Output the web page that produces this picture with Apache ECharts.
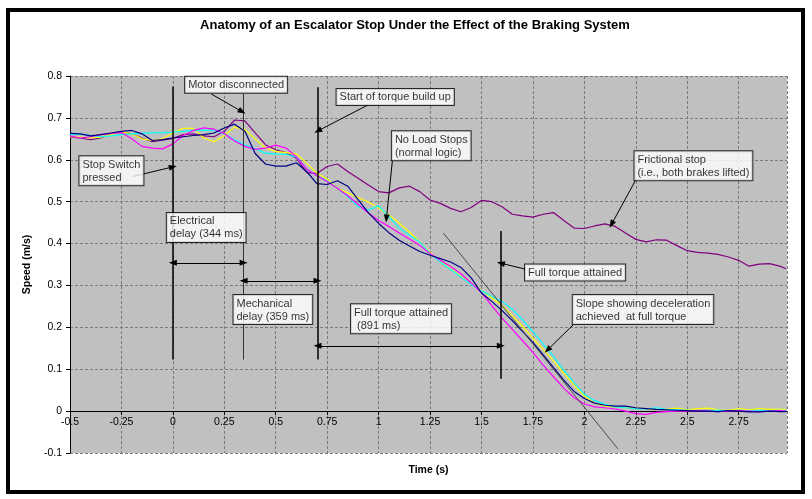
<!DOCTYPE html>
<html><head><meta charset="utf-8">
<script src="https://cdn.jsdelivr.net/npm/echarts@6/dist/echarts.min.js"></script>
<style>html,body{margin:0;padding:0;background:#fff}#c{width:812px;height:499px}</style>
</head><body><div id="c"></div>
<script>
// time axis (s)
const time = [-0.5,-0.45,-0.4,-0.35,-0.3,-0.25,-0.2,-0.15,-0.1,-0.05,0,0.05,0.1,0.15,0.2,0.25,0.3,0.35,0.4,0.45,0.5,0.55,0.6,0.65,0.7,0.75,0.8,0.85,0.9,0.95,1,1.05,1.1,1.15,1.2,1.25,1.3,1.35,1.4,1.45,1.5,1.55,1.6,1.65,1.7,1.75,1.8,1.85,1.9,1.95,2,2.05,2.1,2.15,2.2,2.25,2.3,2.35,2.4,2.45,2.5,2.55,2.6,2.65,2.7,2.75,2.8,2.85,2.9,2.95,2.98];
// speed (m/s) for each run
const stopNavy = [0.663,0.662,0.657,0.66,0.664,0.668,0.67,0.662,0.646,0.648,0.652,0.655,0.658,0.66,0.664,0.676,0.685,0.668,0.615,0.59,0.585,0.585,0.593,0.572,0.543,0.541,0.55,0.537,0.505,0.474,0.448,0.426,0.408,0.394,0.381,0.372,0.364,0.356,0.343,0.318,0.282,0.262,0.24,0.216,0.19,0.164,0.134,0.104,0.074,0.047,0.03,0.019,0.014,0.012,0.012,0.008,0.006,0.004,0.003,0.002,0.001,0,0,-0.001,0.001,0,-0.002,-0.002,0,-0.001,-0.001];
const stopMagenta = [0.657,0.652,0.655,0.66,0.663,0.665,0.65,0.632,0.628,0.626,0.638,0.658,0.67,0.676,0.673,0.662,0.645,0.632,0.625,0.628,0.635,0.628,0.607,0.578,0.562,0.548,0.532,0.514,0.494,0.473,0.455,0.441,0.425,0.411,0.396,0.376,0.36,0.345,0.328,0.306,0.283,0.252,0.222,0.195,0.168,0.14,0.11,0.082,0.055,0.032,0.017,0.01,0.008,0.005,0,-0.006,-0.008,-0.003,-0.001,0,0,0.001,0,-0.001,0,0.001,0,-0.001,0,0.001,0];
const stopYellow = [0.655,0.654,0.652,0.654,0.66,0.667,0.662,0.65,0.646,0.65,0.664,0.675,0.675,0.652,0.643,0.658,0.678,0.672,0.65,0.628,0.62,0.617,0.614,0.592,0.568,0.554,0.532,0.521,0.51,0.499,0.485,0.468,0.449,0.427,0.404,0.378,0.358,0.34,0.322,0.305,0.288,0.27,0.252,0.228,0.202,0.174,0.147,0.12,0.09,0.062,0.036,0.019,0.012,0.01,0.008,0.008,0.005,0.004,0.004,0.007,0.003,0.006,0.007,0.003,0.002,0.006,0.003,0.006,0.004,0.005,0.003];
const stopCyan = [0.66,0.662,0.658,0.655,0.657,0.66,0.662,0.663,0.664,0.665,0.666,0.668,0.67,0.671,0.67,0.662,0.648,0.636,0.626,0.616,0.614,0.613,0.606,0.578,0.562,0.55,0.532,0.512,0.488,0.48,0.49,0.465,0.437,0.42,0.404,0.376,0.356,0.338,0.32,0.302,0.287,0.274,0.262,0.243,0.218,0.19,0.16,0.13,0.098,0.068,0.04,0.025,0.016,0.01,0.008,0.006,0.005,0.008,0.004,0.003,0.002,0.001,0.001,0.002,0.001,0.002,0.001,0.002,0.001,0.002,0.001];
const stopFrictional = [0.654,0.652,0.648,0.652,0.662,0.667,0.662,0.652,0.643,0.647,0.651,0.66,0.662,0.657,0.655,0.668,0.695,0.693,0.664,0.636,0.624,0.617,0.604,0.57,0.567,0.584,0.59,0.572,0.556,0.54,0.524,0.521,0.533,0.537,0.524,0.504,0.496,0.484,0.476,0.486,0.503,0.5,0.488,0.47,0.466,0.463,0.47,0.474,0.455,0.437,0.436,0.442,0.447,0.441,0.425,0.41,0.404,0.409,0.408,0.395,0.383,0.379,0.377,0.374,0.368,0.36,0.346,0.351,0.352,0.346,0.34];
// slope line at full torque (time, speed)
const slopeLine = [[1.315,0.425],[2.163,-0.09]];
// event markers (time, speed from, speed to)
const eventLines = [[0,0.123,0.775],[0.344,0.123,0.757],[0.703,0.123,0.773],[1.594,0.077,0.43]];
// interval arrows (time from, time to, speed)
const spans = [[0,0.344,0.354],[0.344,0.703,0.311],[0.703,1.594,0.156]];
// callout pointers (time, speed) -> (time, speed)
const pointers = [[-0.196,0.56,0,0.583],[0.187,0.757,0.336,0.715],[0.957,0.733,0.705,0.669],[1.067,0.598,1.038,0.46],[2.25,0.552,2.132,0.446],[1.713,0.339,1.594,0.353],[1.946,0.206,1.821,0.146]];
// callout texts anchored at (time, speed)
const notes = [
  [-0.452,0.607,'Stop Switch\npressed'],
  [0.062,0.797,'Motor disconnected'],
  [-0.027,0.472,'Electrical\ndelay (344 ms)'],
  [0.297,0.276,'Mechanical\ndelay (359 ms)'],
  [0.798,0.768,'Start of torque build up'],
  [1.067,0.667,'No Load Stops\n(normal logic)'],
  [2.246,0.619,'Frictional stop\n(i.e., both brakes lifted)'],
  [1.714,0.349,'Full torque attained'],
  [0.868,0.254,'Full torque attained\n (891 ms)'],
  [1.946,0.276,'Slope showing deceleration\nachieved  at full torque']
];

const FONT = '"Liberation Sans", Arial, sans-serif';
const chart = echarts.init(document.getElementById('c'), null, {renderer:'canvas'});
const run = (name, arr, color) => ({
  name, type:'line', data: time.map((t,i)=>[t, arr[i]]), symbol:'none', showSymbol:false,
  lineStyle:{color, width:1.2}, itemStyle:{color}, silent:true, z:3
});
const tri = {symbol:'triangle', symbolSize:[6,8]};
const mlData = [];
eventLines.forEach((e,i)=>mlData.push([{coord:[e[0],e[1]], symbol:'none', lineStyle:{color: i===1?'#333':'#000', width: i===1?1:1.5, type:'solid'}},{coord:[e[0],e[2]], symbol:'none'}]));
spans.forEach(s=>mlData.push([Object.assign({coord:[s[0],s[2]], lineStyle:{color:'#000',width:1.2,type:'solid'}},tri),Object.assign({coord:[s[1],s[2]]},tri)]));
pointers.forEach(p=>mlData.push([{coord:[p[0],p[1]], symbol:'none', lineStyle:{color:'#000',width:1,type:'solid'}},Object.assign({coord:[p[2],p[3]]},tri)]));

chart.setOption({
  animation:false,
  backgroundColor:'#fff',
  title:{text:'Anatomy of an Escalator Stop Under the Effect of the Braking System', left:415, textAlign:'center', top:19, padding:0,
    textStyle:{fontFamily:FONT, fontSize:13, fontWeight:'bold', color:'#000'}},
  grid:{left:70, right:25, top:76, bottom:46, show:true, backgroundColor:'#c0c0c0', borderWidth:0, containLabel:false, outerBoundsMode:'none'},
  xAxis:{type:'value', min:-0.5, max:2.985, interval:0.25, position:'bottom', offset:-41.9,
    name:'Time (s)', nameLocation:'middle', nameGap:54,
    nameTextStyle:{fontFamily:FONT, fontSize:10.5, fontWeight:'bold', color:'#000'},
    axisLine:{show:true, onZero:false, lineStyle:{color:'#000', width:1}},
    axisTick:{show:true, length:4, lineStyle:{color:'#000'}},
    axisLabel:{fontFamily:FONT, fontSize:10.5, color:'#000', margin:6, showMaxLabel:false},
    splitLine:{show:true, lineStyle:{color:'#7a7a7a', width:1, type:[3,2]}}},
  yAxis:{type:'value', min:-0.1, max:0.8, interval:0.1,
    name:'Speed (m/s)', nameLocation:'middle', nameGap:29,
    nameTextStyle:{fontFamily:FONT, fontSize:10.5, fontWeight:'bold', color:'#000'},
    axisLine:{show:true, onZero:false, lineStyle:{color:'#000', width:1}},
    axisTick:{show:true, length:4, lineStyle:{color:'#000'}},
    axisLabel:{fontFamily:FONT, fontSize:10.5, color:'#000', margin:8},
    splitLine:{show:true, lineStyle:{color:'#7a7a7a', width:1, type:[3,2]}}},
  graphic:[{type:'rect', shape:{x:8, y:10, width:795, height:482}, style:{fill:null, stroke:'#000', lineWidth:4}, silent:true, z:-1}],
  series:[
    run('Run 1', stopFrictional, '#800080'),
    run('Run 2', stopYellow, '#ffff00'),
    run('Run 3', stopCyan, '#00ffff'),
    run('Run 4', stopMagenta, '#ff00ff'),
    run('Run 5', stopNavy, '#000080'),
    {name:'Slope', type:'line', data:slopeLine, symbol:'none', lineStyle:{color:'#4a4a4a', width:1}, silent:true, z:4,
     markLine:{silent:true, symbol:['none','none'], label:{show:false}, emphasis:{disabled:true}, animation:false, data:mlData}},
    {name:'Notes', type:'scatter', data:notes, symbolSize:1, itemStyle:{color:'transparent'}, silent:true, z:6,
     label:{show:true, position:[0,0], align:'left', verticalAlign:'top', formatter:p=>p.value[2],
       fontFamily:FONT, fontSize:11, lineHeight:13, color:'#000', backgroundColor:'#fff', borderColor:'#000', borderWidth:1, padding:[2,3,1,3]}}
  ]
});
</script></body></html>
